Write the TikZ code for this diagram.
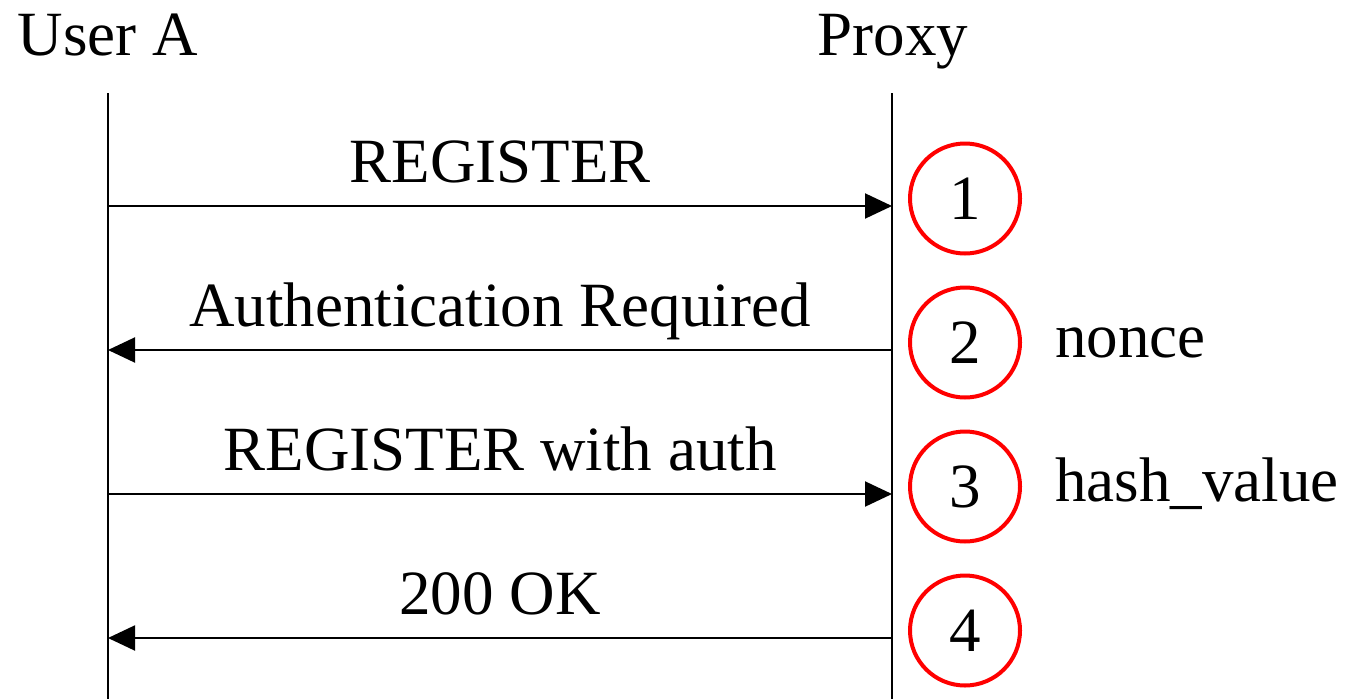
\documentclass[tikz,border=0pt]{standalone}
\usepackage{fontspec}
\setmainfont{Liberation Serif}
\usetikzlibrary{arrows.meta}
\begin{document}
\begin{tikzpicture}[x=1pt,y=-1pt,
  every node/.style={font=\fontsize{63}{70}\selectfont, inner sep=0pt},
  lifeline/.style={line width=2pt, black},
  msg/.style={line width=2pt, -{Triangle[length=27pt,width=25pt]}},
  stepcircle/.style={circle, draw=red, line width=4pt, minimum size=110pt},
  msglabel/.style={anchor=base},
  sidelabel/.style={anchor=base west}]
\useasboundingbox (0,0) rectangle (1351,699);
% headers
\node[anchor=base] (userA) at (108,55) {User A};
\node[anchor=base] (proxy) at (893,55) {Proxy};
% lifelines
\coordinate (ua top) at (108,93);
\coordinate (ua bot) at (108,699);
\coordinate (px top) at (892,93);
\coordinate (px bot) at (892,699);
\draw[lifeline] (ua top) -- (ua bot);
\draw[lifeline] (px top) -- (px bot);
% message anchors
\foreach \i/\y in {1/206,2/350,3/494,4/638}{
  \coordinate (a\i) at (108,\y);
  \coordinate (p\i) at (892,\y);
}
\draw[msg] (a1) -- (p1);
\draw[msg] (p2) -- (a2);
\draw[msg] (a3) -- (p3);
\draw[msg] (p4) -- (a4);
% labels
\node[msglabel] (l1) at (500,182) {REGISTER};
\node[msglabel] (l2) at (500,326) {Authentication Required};
\node[msglabel] (l3) at (500,470) {REGISTER with auth};
\node[msglabel] (l4) at (500,614) {200 OK};
% step circles
\node[stepcircle] (c1) at (965,198.5) {\raisebox{-3pt}{1}};
\node[stepcircle] (c2) at (965,342.5) {\raisebox{-3pt}{2}};
\node[stepcircle] (c3) at (965,486.5) {\raisebox{-3pt}{3}};
\node[stepcircle] (c4) at (965,630.5) {\raisebox{-3pt}{4}};
% side labels
\node[sidelabel] (nonce) at (1055,357) {nonce};
\node[sidelabel] (hash) at (1055,501) {hash\_value};
\end{tikzpicture}
\end{document}
